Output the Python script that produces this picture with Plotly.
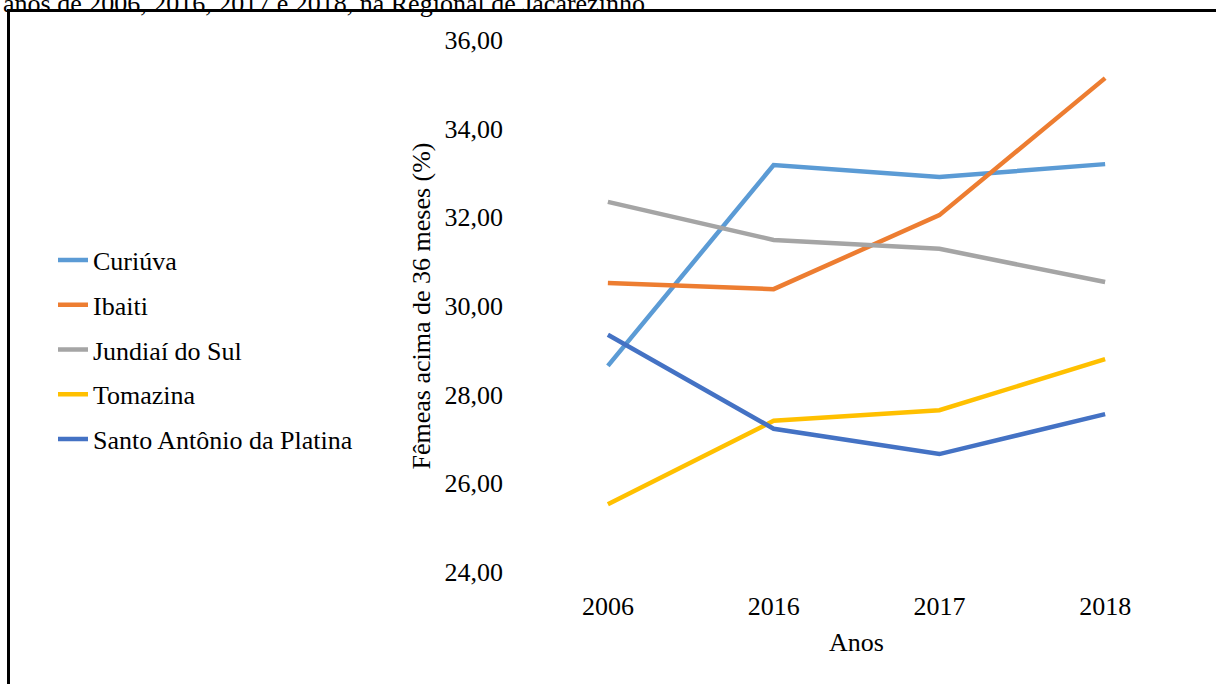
import plotly.graph_objects as go

# Proportion of females older than 36 months (%), by municipality and year
anos = ["2006", "2016", "2017", "2018"]
curiuva = [28.65, 33.18, 32.91, 33.20]
ibaiti = [30.52, 30.38, 32.05, 35.14]
jundiai_do_sul = [32.35, 31.49, 31.29, 30.54]
tomazina = [25.53, 27.41, 27.65, 28.80]
santo_antonio = [29.35, 27.23, 26.66, 27.56]

series = [
    ("Curiúva", curiuva, "#5B9BD5"),
    ("Ibaiti", ibaiti, "#ED7D31"),
    ("Jundiaí do Sul", jundiai_do_sul, "#A5A5A5"),
    ("Tomazina", tomazina, "#FFC000"),
    ("Santo Antônio da Platina", santo_antonio, "#4472C4"),
]

FONT = "Liberation Serif"
FS = 26
W, H = 1216, 684
ML, MR, MT, MB = 525, 28, 40, 112
PW, PH = W - ML - MR, H - MT - MB


def px_x(px):
    return (px - ML) / PW


def px_y(py):
    return 1 + (MT - py) / PH


fig = go.Figure()
for name, vals, color in series:
    fig.add_trace(go.Scatter(
        x=anos, y=vals, name=name, mode="lines", legendgroup=name,
        line=dict(color=color, width=4.5),
    ))

fig.update_layout(
    width=W, height=H,
    margin=dict(l=ML, r=MR, t=MT, b=MB, autoexpand=False),
    paper_bgcolor="white", plot_bgcolor="white",
    separators=",.",
    font=dict(family=FONT, size=FS, color="black"),
    showlegend=True,
    legend=dict(
        x=px_x(53), xanchor="left", y=px_y(350), yanchor="middle",
        font=dict(family=FONT, size=FS, color="black"),
        bgcolor="rgba(0,0,0,0)", tracegroupgap=8, itemwidth=30,
    ),
    xaxis=dict(
        type="category", range=[-0.5, 3.5],
        showgrid=False, showline=False, zeroline=False,
        ticks="", ticklabelstandoff=16,
        tickfont=dict(family=FONT, size=FS),
        title=dict(text="Anos", font=dict(family=FONT, size=FS), standoff=12),
    ),
    yaxis=dict(
        range=[24, 36], dtick=2, tick0=24, tickformat=".2f",
        showgrid=False, showline=False, zeroline=False,
        ticks="", ticklabelstandoff=21,
        tickfont=dict(family=FONT, size=FS),
        title=dict(text="Fêmeas acima de 36 meses (%)",
                   font=dict(family=FONT, size=FS), standoff=6),
    ),
)

# Frame around the chart (left and top edges visible)
fig.add_shape(type="line", xref="paper", yref="paper",
              x0=px_x(8.5), x1=px_x(8.5), y0=px_y(H + 10), y1=px_y(10.5),
              line=dict(color="black", width=3))
fig.add_shape(type="line", xref="paper", yref="paper",
              x0=px_x(7), x1=px_x(W + 10), y0=px_y(10.5), y1=px_y(10.5),
              line=dict(color="black", width=3))

# Caption line above the frame
fig.add_annotation(
    xref="paper", yref="paper", x=px_x(1), y=px_y(-13),
    xanchor="left", yanchor="top", showarrow=False,
    text="anos de 2006, 2016, 2017 e 2018, na Regional de Jacarezinho.",
    font=dict(family=FONT, size=26, color="black"),
)

fig.write_html("out.html")
